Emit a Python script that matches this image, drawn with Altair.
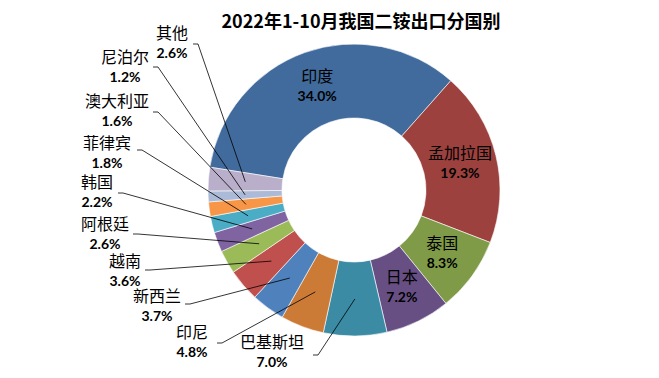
import math
import altair as alt
import pandas as pd

# ---------------- data ----------------
countries = ["印度", "孟加拉国", "泰国", "日本", "巴基斯坦", "印尼", "新西兰",
             "越南", "阿根廷", "韩国", "菲律宾", "澳大利亚", "尼泊尔", "其他"]
shares = [34.0, 19.3, 8.3, 7.2, 7.0, 4.8, 3.7, 3.6, 2.6, 2.2, 1.8, 1.6, 1.2, 2.6]
title_text = "2022年1-10月我国二铵出口分国别"

# ---------------- style ----------------
colors = ["#416B9C", "#9C413E", "#7F9B48", "#674F84", "#3A8BA3", "#CC7B37", "#4F81BD",
          "#C0504D", "#9BBB59", "#8064A2", "#4BACC6", "#F79646", "#AABAD7", "#B9AFCB"]

# ---------------- layout ----------------
W, H = 643, 362
CX, CY = 346, 182          # donut centre (px)
R_OUT, R_IN = 146, 72
R_LAB = 109                # radius of inner labels / leader ends
START = -81 * math.pi / 180

# external label placement: name centre (x, y) and leader start (x, y)
ext_name_x = {"其他": 164, "尼泊尔": 117, "澳大利亚": 109, "菲律宾": 99, "韩国": 89,
              "阿根廷": 97, "越南": 117, "新西兰": 149, "印尼": 184, "巴基斯坦": 264}
ext_name_y = {"其他": 26, "尼泊尔": 50, "澳大利亚": 94, "菲律宾": 136, "韩国": 175,
              "阿根廷": 217, "越南": 254, "新西兰": 289, "印尼": 325, "巴基斯坦": 335}
ext_tick_x = {"其他": 185, "尼泊尔": 145, "澳大利亚": 145, "菲律宾": 129, "韩国": 110,
              "阿根廷": 125, "越南": 137, "新西兰": 177, "印尼": 209, "巴基斯坦": 305}
ext_tick_y = {"其他": 36, "尼泊尔": 59, "澳大利亚": 104, "菲律宾": 142, "韩国": 185,
              "阿根廷": 226, "越南": 262, "新西兰": 296, "印尼": 335, "巴基斯坦": 347}

df = pd.DataFrame({"idx": list(range(len(countries))), "country": countries, "share": shares})
df["ext"] = df["country"].isin(list(ext_name_x.keys()))
df["nx"] = df["country"].map(ext_name_x)
df["ny"] = df["country"].map(ext_name_y)
df["tx"] = df["country"].map(ext_tick_x)
df["ty"] = df["country"].map(ext_tick_y)

base = alt.Chart(df).transform_window(
    cum="sum(share)", sort=[alt.SortField("idx")], frame=[None, 0]
).transform_joinaggregate(
    total="sum(share)"
).transform_calculate(
    mid=f"{START} + 2*PI*(datum.cum - datum.share/2)/datum.total",
    pct="format(datum.share, '.1f') + '%'",
).transform_calculate(
    lx=f"{CX} + {R_LAB}*sin(datum.mid)",
    ly=f"{CY} - {R_LAB}*cos(datum.mid)",
)

arcs = alt.Chart(df).mark_arc(
    outerRadius=R_OUT, innerRadius=R_IN, stroke="white", strokeWidth=0.6
).encode(
    theta=alt.Theta("share:Q", stack=True,
                    scale=alt.Scale(range=[START, START + 2 * math.pi])),
    order=alt.Order("idx:Q"),
    color=alt.Color("country:N", scale=alt.Scale(domain=countries, range=colors), legend=None),
    x=alt.value(CX), y=alt.value(CY),
)

name_font = "Noto Sans CJK SC"
pct_font = "Lato"

inner = base.transform_filter("!datum.ext")
in_name = inner.mark_text(font=name_font, fontSize=16, dy=-10, color="black").encode(
    x=alt.X("lx:Q", scale=None), y=alt.Y("ly:Q", scale=None), text="country:N")
in_pct = inner.mark_text(font=pct_font, fontSize=14, fontWeight="bold", dy=10, color="black").encode(
    x=alt.X("lx:Q", scale=None), y=alt.Y("ly:Q", scale=None), text="pct:N")

outer = base.transform_filter("datum.ext").transform_calculate(
    tx2="datum.tx + 5", py="datum.ny + 20")
out_name = outer.mark_text(font=name_font, fontSize=16, color="black").encode(
    x=alt.X("nx:Q", scale=None), y=alt.Y("ny:Q", scale=None), text="country:N")
out_pct = outer.mark_text(font=pct_font, fontSize=14, fontWeight="bold", color="black").encode(
    x=alt.X("nx:Q", scale=None), y=alt.Y("py:Q", scale=None), text="pct:N")
tick = outer.mark_rule(color="black", strokeWidth=0.8).encode(
    x=alt.X("tx:Q", scale=None), x2="tx2:Q", y=alt.Y("ty:Q", scale=None), y2="ty:Q")
leader = outer.mark_rule(color="black", strokeWidth=0.8).encode(
    x=alt.X("tx2:Q", scale=None), x2="lx:Q", y=alt.Y("ty:Q", scale=None), y2="ly:Q")

title = alt.Chart(pd.DataFrame({"t": [title_text]})).mark_text(
    font=name_font, fontSize=18, fontWeight="bold", color="black"
).encode(x=alt.value(353), y=alt.value(15), text="t:N")

chart = alt.layer(arcs, tick, leader, in_name, in_pct, out_name, out_pct, title).properties(
    width=W, height=H, autosize=alt.AutoSizeParams(type="none"), padding=0
).configure_view(stroke=None)

chart.save("out.html", embed_options={"renderer": "svg", "actions": False})
